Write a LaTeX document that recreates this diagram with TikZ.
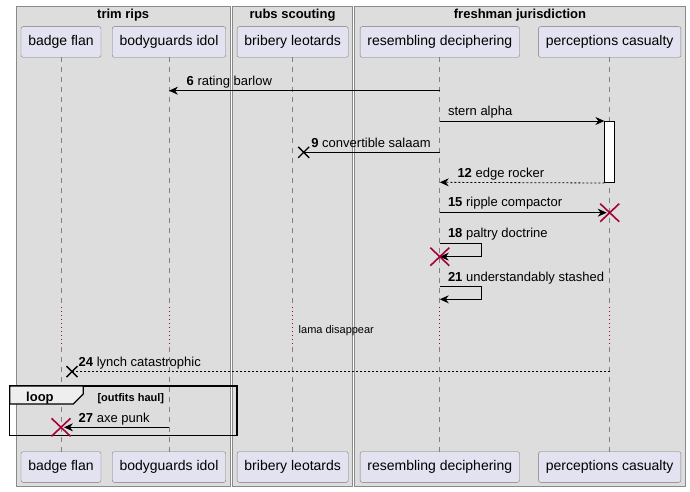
\documentclass[tikz,border=0pt]{standalone}
\usepackage{fontspec}
\setmainfont{Liberation Sans}
\usetikzlibrary{arrows.meta,positioning,calc}
\definecolor{groupbg}{HTML}{DDDDDD}
\definecolor{groupedge}{HTML}{8A8A8A}
\definecolor{partbg}{HTML}{E2E2F0}
\definecolor{partedge}{HTML}{7A7A7A}
\definecolor{killred}{HTML}{A80036}
\definecolor{tabbg}{HTML}{EEEEEE}
\tikzset{
  >={Stealth[length=9pt,width=8pt,inset=3pt]},
  group/.style={draw=groupedge,fill=groupbg,line width=0.9pt},
  grouptitle/.style={anchor=base,inner sep=0pt,font=\bfseries\fontsize{13}{15}\selectfont},
  party/.style={draw=partedge,fill=partbg,rounded corners=2pt,minimum height=30.6pt,inner xsep=7.3pt,inner ysep=0pt,font=\fontsize{14}{16}\selectfont},
  lifeline/.style={draw=gray,line width=0.7pt,dash pattern=on 5pt off 5pt},
  delayline/.style={draw=killred,line width=0.8pt,dash pattern=on 1pt off 3pt},
  msg/.style={draw=black,line width=0.8pt},
  reply/.style={msg,dash pattern=on 2pt off 2pt},
  lbl/.style={anchor=base west,inner sep=0pt,font=\fontsize{13}{15}\selectfont},
  killx/.pic={\draw[killred,line width=1.6pt] (-9.5pt,-9pt) -- (9.5pt,9pt) (-9.5pt,9pt) -- (9.5pt,-9pt);},
  lostx/.pic={\draw[black,line width=1.4pt] (-5.5pt,-5.5pt) -- (5.5pt,5.5pt) (-5.5pt,5.5pt) -- (5.5pt,-5.5pt);}
}

\begin{document}
\begin{tikzpicture}[x=1pt,y=-1pt]
		\useasboundingbox[fill=white] (0,0) rectangle (690,492);
		
		% boxes
		\draw[group] (16,6) rectangle (230.3,486.7);
		\draw[group] (232.3,6) rectangle (352.7,486.7);
		\draw[group] (354.7,6) rectangle (685.3,486.7);
		\node[grouptitle] (gtrim) at (123.2,19) {trim rips};
		\node[grouptitle] (grubs) at (292.5,19) {rubs scouting};
		\node[grouptitle] (gfresh) at (520,19) {freshman jurisdiction};
		
		% participants
		\node[party] (bflan) at (61,42) {badge flan};
		\node[party] (bguard) at (169,42) {bodyguards idol};
		\node[party] (bribe) at (292.7,42) {bribery leotards};
		\node[party] (resdec) at (439.8,42) {resembling deciphering};
		\node[party] (percas) at (609.7,42) {perceptions casualty};
		\node[party] (bflanB) at (61,467) {badge flan};
		\node[party] (bguardB) at (169,467) {bodyguards idol};
		\node[party] (bribeB) at (292.7,467) {bribery leotards};
		\node[party] (resdecB) at (439.8,467) {resembling deciphering};
		\node[party] (percasB) at (609.7,467) {perceptions casualty};
		
		% message levels
		\coordinate (y6) at (0,90.7);
		\coordinate (y7) at (0,121);
		\coordinate (y9) at (0,152.3);
		\coordinate (y12) at (0,182.3);
		\coordinate (y15) at (0,212.7);
		\coordinate (y18) at (0,243.3);
		\coordinate (y18b) at (0,256.7);
		\coordinate (y21) at (0,286.7);
		\coordinate (y21b) at (0,299.3);
		\coordinate (dtop) at (0,307);
		\coordinate (dbot) at (0,347);
		\coordinate (y24) at (0,371.7);
		\coordinate (y27) at (0,427.3);
		
		% lifelines, with the delay
		\foreach \p/\q in {bflan/bflanB,bguard/bguardB,bribe/bribeB,resdec/resdecB,percas/percasB}{
			\draw[lifeline] (\p.south) -- (\p |- dtop);
			\draw[delayline] (\p |- dtop) -- (\p |- dbot);
			\draw[lifeline] (\p |- dbot) -- (\q.north);
		}
		\node[lbl,font=\fontsize{11}{13}\selectfont] (delay) at ($(bribe |- dtop)+(5.8,26)$) {lama disappear};
		
		% activation
		\node[draw=black,fill=white,line width=0.7pt,minimum width=10pt,minimum height=61.3pt,inner sep=0pt,anchor=north] (act) at (percas |- y7) {};
		
		% 6
		\draw[msg,->] (resdec |- y6) -- (bguard |- y6);
		\node[lbl] (l6) at ($(bguard |- y6)+(17.5,-5)$) {\textbf{6} rating barlow};
		
		% stern alpha
		\draw[msg,->] (resdec |- y7) -- (act.north west);
		\node[lbl] (l7) at ($(resdec |- y7)+(8,-5.5)$) {stern alpha};
		
		% 9, lost
		\coordinate (lost9) at ($(bribe |- y9)+(11,0)$);
		\draw[msg] (resdec |- y9) -- (lost9);
		\pic at (lost9) {lostx};
		\node[lbl] (l9) at ($(bribe |- y9)+(18.5,-5)$) {\textbf{9} convertible salaam};
		
		% 12
		\draw[reply,->] (act.south west) -- (resdec |- y12);
		\node[lbl] (l12) at ($(resdec |- y12)+(17.5,-5)$) {\textbf{12} edge rocker};
		
		% 15, destroy
		\draw[msg,->,shorten >=3pt] (resdec |- y15) -- (percas |- y15);
		\pic at (percas |- y15) {killx};
		\node[lbl] (l15) at ($(resdec |- y15)+(8,-6)$) {\textbf{15} ripple compactor};
		
		% 18, self and destroy
		\draw[msg,->] (resdec |- y18) -- ++(42,0) |- (resdec |- y18b);
		\pic at (resdec |- y18b) {killx};
		\node[lbl] (l18) at ($(resdec |- y18)+(8,-6)$) {\textbf{18} paltry doctrine};
		
		% 21, self
		\draw[msg,->] (resdec |- y21) -- ++(42,0) |- (resdec |- y21b);
		\node[lbl] (l21) at ($(resdec |- y21)+(8,-5)$) {\textbf{21} understandably stashed};
		
		% 24, lost
		\coordinate (lost24) at ($(bflan |- y24)+(11,0)$);
		\draw[reply] (percas |- y24) -- (lost24);
		\pic at (lost24) {lostx};
		\node[lbl] (l24) at ($(bflan |- y24)+(17.5,-5)$) {\textbf{24} lynch catastrophic};
		
		% loop
		\draw[black,line width=1.5pt] (9.7,386) rectangle (237,435.7);
		\draw[black,line width=1.2pt,fill=tabbg] (9.7,386) -- (83.3,386) -- (83.3,394) -- (73.3,404) -- (9.7,404) -- cycle;
		\node[lbl,font=\bfseries\fontsize{13}{15}\selectfont] (tloop) at (26,401.5) {loop};
		\node[lbl,font=\bfseries\fontsize{11}{13}\selectfont] (tguard) at (97.3,401) {[outfits haul]};
		
		% 27, destroy
		\draw[msg,->,shorten >=3pt] (bguard |- y27) -- (bflan |- y27);
		\pic at (bflan |- y27) {killx};
		\node[lbl] (l27) at ($(bflan |- y27)+(17.5,-5)$) {\textbf{27} axe punk};
	\end{tikzpicture}
\end{document}
